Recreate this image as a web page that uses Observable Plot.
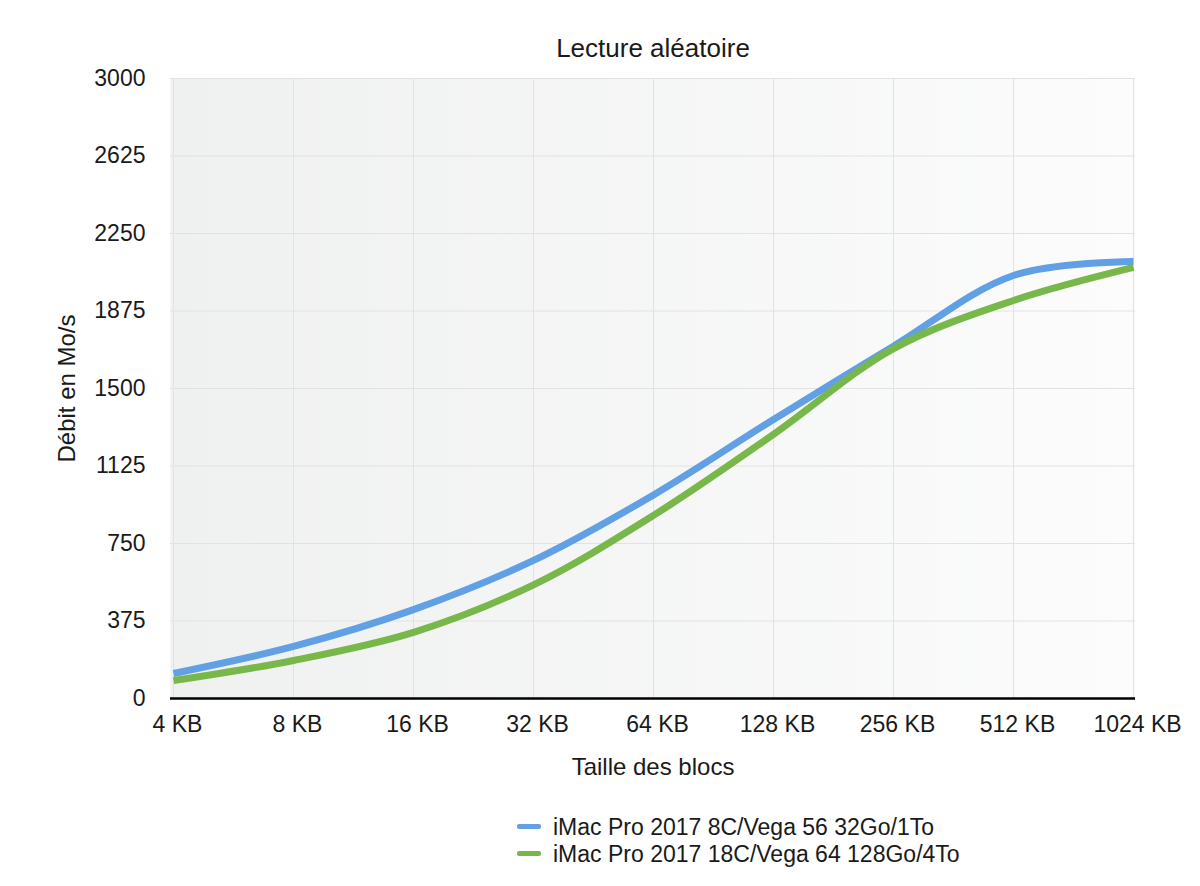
<!DOCTYPE html>
<html>
<head>
<meta charset="utf-8">
<script src="https://cdn.jsdelivr.net/npm/d3@7"></script>
<script src="https://cdn.jsdelivr.net/npm/@observablehq/plot@0.6"></script>
<style>
  body { margin: 0; background: #fff; font-family: "Liberation Sans", Helvetica, Arial, sans-serif; color: #1a1a1a; }
  #chart svg { display: block; }
  #legend { position: relative; height: 86px; }
  .item { position: absolute; left: 517px; height: 27px; line-height: 27px; font-size: 23px; white-space: nowrap; }
  .sw { display: inline-block; width: 24px; height: 5px; border-radius: 2px; vertical-align: middle; margin-right: 12px; position: relative; top: -2px; }
</style>
</head>
<body>
<div id="chart"></div>
<div id="legend"></div>
<script>
const sizes = ["4 KB", "8 KB", "16 KB", "32 KB", "64 KB", "128 KB", "256 KB", "512 KB", "1024 KB"];
const seriesNames = ["iMac Pro 2017 8C/Vega 56 32Go/1To", "iMac Pro 2017 18C/Vega 64 128Go/4To"];
const seriesColors = ["#62a0e6", "#78b84b"];
const blueValues = [121, 252, 430, 668, 985, 1350, 1705, 2047, 2115];
const greenValues = [87, 184, 320, 550, 886, 1278, 1693, 1926, 2086];
const yTicks = [0, 375, 750, 1125, 1500, 1875, 2250, 2625, 3000];

const data = [
  ...sizes.map((s, i) => ({size: s, value: blueValues[i], series: seriesNames[0]})),
  ...sizes.map((s, i) => ({size: s, value: greenValues[i], series: seriesNames[1]}))
];

const plot = Plot.plot({
  width: 1200,
  height: 800,
  marginLeft: 170,
  marginRight: 65,
  marginTop: 78,
  marginBottom: 102,
  style: {fontFamily: '"Liberation Sans", Helvetica, Arial, sans-serif', fontSize: "23px", color: "#1a1a1a", background: "#fff"},
  x: {type: "point", domain: sizes, padding: 0},
  y: {domain: [0, 3000]},
  color: {domain: seriesNames, range: seriesColors},
  marks: [
    Plot.frame({fill: "#f3f3f3", stroke: null}),
    Plot.gridY(yTicks, {stroke: "#e2e2e2", strokeOpacity: 1, strokeWidth: 1}),
    Plot.gridX(sizes, {stroke: "#e2e2e2", strokeOpacity: 1, strokeWidth: 1}),
    Plot.axisY(yTicks, {tickSize: 0, tickPadding: 25, fontSize: 23, label: null, tickFormat: d => String(d)}),
    Plot.axisX(sizes, {tickSize: 0, tickPadding: 17, fontSize: 23, dx: 4, label: null}),
    Plot.line(data, {x: "size", y: "value", z: "series", stroke: "series", strokeWidth: 7, curve: "catmull-rom", strokeLinecap: "butt", strokeLinejoin: "round"}),
    Plot.ruleY([0], {stroke: "#000", strokeWidth: 2.5}),
    Plot.text(["Lecture aléatoire"], {frameAnchor: "top", dy: -40, fontSize: 26, fill: "#1a1a1a"}),
    Plot.text(["Taille des blocs"], {frameAnchor: "bottom", dy: 76, fontSize: 24, fill: "#1a1a1a"}),
    Plot.text(["Débit en Mo/s"], {frameAnchor: "left", textAnchor: "middle", dx: -103, rotate: -90, fontSize: 24, fill: "#1a1a1a"})
  ]
});

// gradient background for the plotting area
const ns = "http://www.w3.org/2000/svg";
const defs = document.createElementNS(ns, "defs");
const grad = document.createElementNS(ns, "linearGradient");
grad.setAttribute("id", "bgGrad");
grad.setAttribute("x1", "0"); grad.setAttribute("y1", "0");
grad.setAttribute("x2", "1"); grad.setAttribute("y2", "0");
[["0", "#eff0f0"], ["1", "#fcfcfc"]].forEach(([o, c]) => {
  const st = document.createElementNS(ns, "stop");
  st.setAttribute("offset", o); st.setAttribute("stop-color", c);
  grad.appendChild(st);
});
defs.appendChild(grad);
plot.insertBefore(defs, plot.firstChild);
let fr = plot.querySelector('[aria-label="frame"]');
if (fr) {
  const r = fr.tagName.toLowerCase() === "rect" ? fr : fr.querySelector("rect");
  if (r) r.setAttribute("fill", "url(#bgGrad)");
}

document.getElementById("chart").appendChild(plot);

const legend = document.getElementById("legend");
seriesNames.forEach((n, i) => {
  const d = document.createElement("div");
  d.className = "item";
  d.style.top = (14 + i * 27) + "px";
  const sw = document.createElement("span");
  sw.className = "sw";
  sw.style.background = seriesColors[i];
  d.appendChild(sw);
  d.appendChild(document.createTextNode(n));
  legend.appendChild(d);
});
</script>
</body>
</html>
